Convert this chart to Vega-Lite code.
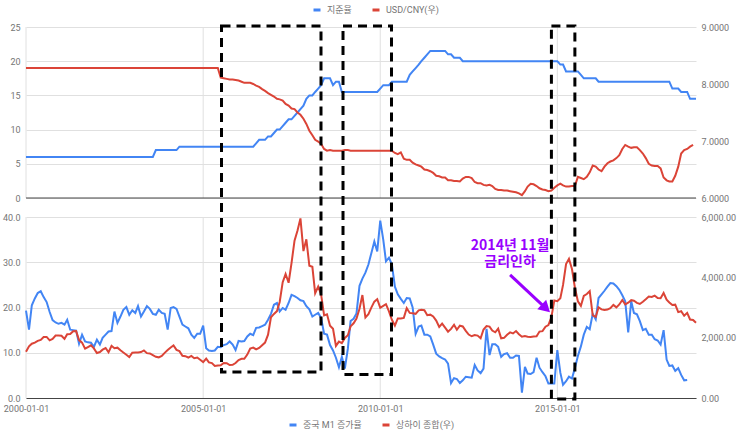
{
"$schema":"https://vega.github.io/schema/vega-lite/v6.json",
"width":670,"height":371,
"autosize":{"type":"none"},
"padding":{"left":26,"top":27,"right":47,"bottom":39},
"background":"white",
"config":{
 "view":{"stroke":null},
 "font":"Roboto",
 "axis":{"labelFont":"Roboto","labelFontSize":9,"labelColor":"#757575","ticks":false,"tickSize":0,"domain":false,"title":null,"gridColor":"#e0e0e0","gridWidth":1},
 "legend":{"padding":0,"labelFont":"Roboto, Noto Sans CJK KR","labelFontSize":9,"labelColor":"#757575","symbolType":"stroke","symbolStrokeWidth":3,"symbolSize":49,"labelOffset":5,"columnPadding":14,"direction":"horizontal","orient":"none","title":null}
},
"datasets":{
"mo":[
{"d":"2000-01-01","r":6,"u":8.28,"m":19.3,"s":1535},{"d":"2000-02-01","r":6,"u":8.28,"m":15.1,"s":1715},{"d":"2000-03-01","r":6,"u":8.28,"m":20.5,"s":1800},{"d":"2000-04-01","r":6,"u":8.28,"m":22.0,"s":1836},{"d":"2000-05-01","r":6,"u":8.28,"m":23.2,"s":1894},{"d":"2000-06-01","r":6,"u":8.28,"m":23.6,"s":1928},{"d":"2000-07-01","r":6,"u":8.28,"m":22.3,"s":2023},{"d":"2000-08-01","r":6,"u":8.28,"m":21.2,"s":2025},{"d":"2000-09-01","r":6,"u":8.28,"m":19.0,"s":1911},{"d":"2000-10-01","r":6,"u":8.28,"m":17.2,"s":1961},{"d":"2000-11-01","r":6,"u":8.28,"m":16.7,"s":2070},{"d":"2000-12-01","r":6,"u":8.28,"m":16.4,"s":2073},
{"d":"2001-01-01","r":6,"u":8.28,"m":16.6,"s":2065},{"d":"2001-02-01","r":6,"u":8.28,"m":16.2,"s":1960},{"d":"2001-03-01","r":6,"u":8.28,"m":17.3,"s":2112},{"d":"2001-04-01","r":6,"u":8.28,"m":15.1,"s":2119},{"d":"2001-05-01","r":6,"u":8.28,"m":15.0,"s":2214},{"d":"2001-06-01","r":6,"u":8.28,"m":14.9,"s":2218},{"d":"2001-07-01","r":6,"u":8.28,"m":12.0,"s":1920},{"d":"2001-08-01","r":6,"u":8.28,"m":14.0,"s":1834},{"d":"2001-09-01","r":6,"u":8.28,"m":12.5,"s":1636},{"d":"2001-10-01","r":6,"u":8.28,"m":12.3,"s":1690},{"d":"2001-11-01","r":6,"u":8.28,"m":12.2,"s":1747},{"d":"2001-12-01","r":6,"u":8.28,"m":11.3,"s":1646},
{"d":"2002-01-01","r":6,"u":8.28,"m":12.9,"s":1491},{"d":"2002-02-01","r":6,"u":8.28,"m":11.8,"s":1525},{"d":"2002-03-01","r":6,"u":8.28,"m":13.3,"s":1603},{"d":"2002-04-01","r":6,"u":8.28,"m":14.0,"s":1657},{"d":"2002-05-01","r":6,"u":8.28,"m":14.7,"s":1515},{"d":"2002-06-01","r":6,"u":8.28,"m":14.8,"s":1732},{"d":"2002-07-01","r":6,"u":8.28,"m":19.1,"s":1651},{"d":"2002-08-01","r":6,"u":8.28,"m":16.6,"s":1669},{"d":"2002-09-01","r":6,"u":8.28,"m":18.0,"s":1581},{"d":"2002-10-01","r":6,"u":8.28,"m":19.5,"s":1507},{"d":"2002-11-01","r":6,"u":8.28,"m":20.1,"s":1434},{"d":"2002-12-01","r":6,"u":8.28,"m":18.4,"s":1357},
{"d":"2003-01-01","r":6,"u":8.28,"m":19.4,"s":1500},{"d":"2003-02-01","r":6,"u":8.28,"m":18.8,"s":1511},{"d":"2003-03-01","r":6,"u":8.28,"m":20.3,"s":1511},{"d":"2003-04-01","r":6,"u":8.28,"m":18.0,"s":1521},{"d":"2003-05-01","r":6,"u":8.28,"m":19.1,"s":1576},{"d":"2003-06-01","r":6,"u":8.28,"m":20.3,"s":1487},{"d":"2003-07-01","r":6,"u":8.28,"m":19.7,"s":1477},{"d":"2003-08-01","r":6,"u":8.28,"m":18.6,"s":1421},{"d":"2003-09-01","r":7,"u":8.28,"m":18.4,"s":1367},{"d":"2003-10-01","r":7,"u":8.28,"m":19.5,"s":1348},{"d":"2003-11-01","r":7,"u":8.28,"m":18.8,"s":1397},{"d":"2003-12-01","r":7,"u":8.28,"m":18.6,"s":1497},
{"d":"2004-01-01","r":7,"u":8.28,"m":15.1,"s":1590},{"d":"2004-02-01","r":7,"u":8.28,"m":19.9,"s":1675},{"d":"2004-03-01","r":7,"u":8.28,"m":20.1,"s":1742},{"d":"2004-04-01","r":7,"u":8.28,"m":19.7,"s":1595},{"d":"2004-05-01","r":7.5,"u":8.28,"m":18.0,"s":1555},{"d":"2004-06-01","r":7.5,"u":8.28,"m":16.2,"s":1399},{"d":"2004-07-01","r":7.5,"u":8.28,"m":15.8,"s":1387},{"d":"2004-08-01","r":7.5,"u":8.28,"m":15.4,"s":1342},{"d":"2004-09-01","r":7.5,"u":8.28,"m":14.0,"s":1396},{"d":"2004-10-01","r":7.5,"u":8.28,"m":13.3,"s":1320},{"d":"2004-11-01","r":7.5,"u":8.28,"m":14.2,"s":1340},{"d":"2004-12-01","r":7.5,"u":8.28,"m":14.2,"s":1266},
{"d":"2005-01-01","r":7.5,"u":8.28,"m":16.0,"s":1191},{"d":"2005-02-01","r":7.5,"u":8.28,"m":11.0,"s":1306},{"d":"2005-03-01","r":7.5,"u":8.28,"m":10.5,"s":1181},{"d":"2005-04-01","r":7.5,"u":8.28,"m":10.4,"s":1159},{"d":"2005-05-01","r":7.5,"u":8.28,"m":10.5,"s":1060},{"d":"2005-06-01","r":7.5,"u":8.28,"m":11.3,"s":1080},{"d":"2005-07-01","r":7.5,"u":8.11,"m":11.2,"s":1083},{"d":"2005-08-01","r":7.5,"u":8.10,"m":11.7,"s":1162},{"d":"2005-09-01","r":7.5,"u":8.09,"m":11.9,"s":1155},{"d":"2005-10-01","r":7.5,"u":8.08,"m":12.5,"s":1092},{"d":"2005-11-01","r":7.5,"u":8.08,"m":11.8,"s":1099},{"d":"2005-12-01","r":7.5,"u":8.07,"m":10.6,"s":1161},
{"d":"2006-01-01","r":7.5,"u":8.06,"m":12.6,"s":1258},{"d":"2006-02-01","r":7.5,"u":8.04,"m":12.5,"s":1299},{"d":"2006-03-01","r":7.5,"u":8.02,"m":12.6,"s":1298},{"d":"2006-04-01","r":7.5,"u":8.02,"m":13.6,"s":1440},{"d":"2006-05-01","r":7.5,"u":8.02,"m":14.2,"s":1641},{"d":"2006-06-01","r":7.5,"u":8.00,"m":13.9,"s":1672},{"d":"2006-07-01","r":8,"u":7.97,"m":15.5,"s":1612},{"d":"2006-08-01","r":8.5,"u":7.95,"m":15.6,"s":1658},{"d":"2006-09-01","r":8.5,"u":7.91,"m":15.9,"s":1752},{"d":"2006-10-01","r":8.5,"u":7.88,"m":16.2,"s":1837},{"d":"2006-11-01","r":9,"u":7.84,"m":17.3,"s":2099},{"d":"2006-12-01","r":9,"u":7.81,"m":18.6,"s":2675},
{"d":"2007-01-01","r":9.5,"u":7.78,"m":20.6,"s":2786},{"d":"2007-02-01","r":10,"u":7.74,"m":21.0,"s":2881},{"d":"2007-03-01","r":10,"u":7.73,"m":19.1,"s":3183},{"d":"2007-04-01","r":10.5,"u":7.71,"m":19.9,"s":3841},{"d":"2007-05-01","r":11,"u":7.65,"m":19.5,"s":4109},{"d":"2007-06-01","r":11.5,"u":7.62,"m":21.0,"s":3821},{"d":"2007-07-01","r":11.5,"u":7.57,"m":22.8,"s":4471},{"d":"2007-08-01","r":12,"u":7.56,"m":22.5,"s":5218},{"d":"2007-09-01","r":12.5,"u":7.50,"m":22.1,"s":5552},{"d":"2007-10-01","r":13,"u":7.46,"m":21.6,"s":5954},{"d":"2007-11-01","r":13.5,"u":7.39,"m":21.4,"s":4871},{"d":"2007-12-01","r":14.5,"u":7.30,"m":20.3,"s":5262},
{"d":"2008-01-01","r":15,"u":7.18,"m":19.6,"s":4383},{"d":"2008-02-01","r":15,"u":7.10,"m":18.0,"s":4348},{"d":"2008-03-01","r":15.5,"u":7.02,"m":18.4,"s":3473},{"d":"2008-04-01","r":16,"u":6.99,"m":18.8,"s":3693},{"d":"2008-05-01","r":16.5,"u":6.95,"m":17.7,"s":3433},{"d":"2008-06-01","r":17.5,"u":6.86,"m":14.2,"s":2736},{"d":"2008-07-01","r":17.5,"u":6.83,"m":14.0,"s":2775},{"d":"2008-08-01","r":17.5,"u":6.84,"m":11.7,"s":2397},{"d":"2008-09-01","r":16.5,"u":6.83,"m":10.5,"s":2293},{"d":"2008-10-01","r":17,"u":6.83,"m":8.9,"s":1729},{"d":"2008-11-01","r":17,"u":6.83,"m":6.8,"s":1871},{"d":"2008-12-01","r":15.5,"u":6.83,"m":9.1,"s":1821},
{"d":"2009-01-01","r":15.5,"u":6.84,"m":6.5,"s":1991},{"d":"2009-02-01","r":15.5,"u":6.84,"m":10.9,"s":2082},{"d":"2009-03-01","r":15.5,"u":6.83,"m":17.0,"s":2373},{"d":"2009-04-01","r":15.5,"u":6.83,"m":17.5,"s":2477},{"d":"2009-05-01","r":15.5,"u":6.83,"m":18.7,"s":2633},{"d":"2009-06-01","r":15.5,"u":6.83,"m":24.8,"s":2959},{"d":"2009-07-01","r":15.5,"u":6.83,"m":26.4,"s":3412},{"d":"2009-08-01","r":15.5,"u":6.83,"m":27.7,"s":2668},{"d":"2009-09-01","r":15.5,"u":6.83,"m":29.5,"s":2779},{"d":"2009-10-01","r":15.5,"u":6.83,"m":32.0,"s":2996},{"d":"2009-11-01","r":15.5,"u":6.83,"m":34.6,"s":3195},{"d":"2009-12-01","r":15.5,"u":6.83,"m":32.4,"s":3277},
{"d":"2010-01-01","r":16,"u":6.83,"m":39.2,"s":2989},{"d":"2010-02-01","r":16.5,"u":6.83,"m":35.0,"s":3051},{"d":"2010-03-01","r":16.5,"u":6.83,"m":30.2,"s":3109},{"d":"2010-04-01","r":16.5,"u":6.83,"m":31.0,"s":2870},{"d":"2010-05-01","r":17,"u":6.83,"m":29.5,"s":2592},{"d":"2010-06-01","r":17,"u":6.79,"m":24.6,"s":2398},{"d":"2010-07-01","r":17,"u":6.77,"m":22.9,"s":2638},{"d":"2010-08-01","r":17,"u":6.80,"m":21.9,"s":2639},{"d":"2010-09-01","r":17,"u":6.69,"m":21.0,"s":2656},{"d":"2010-10-01","r":17,"u":6.67,"m":22.1,"s":2979},{"d":"2010-11-01","r":18,"u":6.67,"m":22.0,"s":2820},{"d":"2010-12-01","r":18.5,"u":6.62,"m":20.0,"s":2808},
{"d":"2011-01-01","r":19,"u":6.59,"m":14.2,"s":2790},{"d":"2011-02-01","r":19.5,"u":6.57,"m":15.8,"s":2905},{"d":"2011-03-01","r":20,"u":6.55,"m":16.0,"s":2928},{"d":"2011-04-01","r":20.5,"u":6.50,"m":14.0,"s":2911},{"d":"2011-05-01","r":21,"u":6.49,"m":14.0,"s":2743},{"d":"2011-06-01","r":21.5,"u":6.47,"m":13.6,"s":2762},{"d":"2011-07-01","r":21.5,"u":6.44,"m":11.8,"s":2701},{"d":"2011-08-01","r":21.5,"u":6.39,"m":9.8,"s":2568},{"d":"2011-09-01","r":21.5,"u":6.38,"m":9.2,"s":2359},{"d":"2011-10-01","r":21.5,"u":6.36,"m":8.8,"s":2468},{"d":"2011-11-01","r":21.5,"u":6.36,"m":8.5,"s":2333},{"d":"2011-12-01","r":21,"u":6.31,"m":7.6,"s":2199},
{"d":"2012-01-01","r":21,"u":6.31,"m":3.3,"s":2292},{"d":"2012-02-01","r":20.5,"u":6.30,"m":4.4,"s":2428},{"d":"2012-03-01","r":20.5,"u":6.30,"m":4.2,"s":2263},{"d":"2012-04-01","r":20.5,"u":6.29,"m":3.3,"s":2396},{"d":"2012-05-01","r":20,"u":6.34,"m":3.9,"s":2373},{"d":"2012-06-01","r":20,"u":6.37,"m":4.7,"s":2225},{"d":"2012-07-01","r":20,"u":6.37,"m":4.6,"s":2103},{"d":"2012-08-01","r":20,"u":6.35,"m":4.5,"s":2047},{"d":"2012-09-01","r":20,"u":6.28,"m":7.3,"s":2086},{"d":"2012-10-01","r":20,"u":6.26,"m":6.1,"s":2069},{"d":"2012-11-01","r":20,"u":6.26,"m":5.5,"s":1980},{"d":"2012-12-01","r":20,"u":6.23,"m":6.5,"s":2269},
{"d":"2013-01-01","r":20,"u":6.22,"m":15.3,"s":2385},{"d":"2013-02-01","r":20,"u":6.23,"m":9.5,"s":2366},{"d":"2013-03-01","r":20,"u":6.21,"m":11.9,"s":2237},{"d":"2013-04-01","r":20,"u":6.16,"m":11.9,"s":2178},{"d":"2013-05-01","r":20,"u":6.14,"m":11.3,"s":2301},{"d":"2013-06-01","r":20,"u":6.14,"m":9.1,"s":1979},{"d":"2013-07-01","r":20,"u":6.13,"m":9.7,"s":1994},{"d":"2013-08-01","r":20,"u":6.13,"m":9.9,"s":2098},{"d":"2013-09-01","r":20,"u":6.12,"m":8.9,"s":2175},{"d":"2013-10-01","r":20,"u":6.11,"m":8.9,"s":2141},{"d":"2013-11-01","r":20,"u":6.10,"m":9.4,"s":2220},{"d":"2013-12-01","r":20,"u":6.08,"m":9.3,"s":2116},
{"d":"2014-01-01","r":20,"u":6.05,"m":1.2,"s":2033},{"d":"2014-02-01","r":20,"u":6.12,"m":6.9,"s":2056},{"d":"2014-03-01","r":20,"u":6.20,"m":5.4,"s":2033},{"d":"2014-04-01","r":20,"u":6.25,"m":5.3,"s":2026},{"d":"2014-05-01","r":20,"u":6.24,"m":5.7,"s":2039},{"d":"2014-06-01","r":20,"u":6.21,"m":8.9,"s":2048},{"d":"2014-07-01","r":20,"u":6.17,"m":6.7,"s":2202},{"d":"2014-08-01","r":20,"u":6.15,"m":5.7,"s":2217},{"d":"2014-09-01","r":20,"u":6.14,"m":4.8,"s":2364},{"d":"2014-10-01","r":20,"u":6.12,"m":3.2,"s":2420},{"d":"2014-11-01","r":20,"u":6.13,"m":3.2,"s":2683},{"d":"2014-12-01","r":20,"u":6.18,"m":3.2,"s":3235},
{"d":"2015-01-01","r":20,"u":6.22,"m":10.6,"s":3210},{"d":"2015-02-01","r":19.5,"u":6.25,"m":5.6,"s":3310},{"d":"2015-03-01","r":19.5,"u":6.22,"m":2.9,"s":3748},{"d":"2015-04-01","r":18.5,"u":6.20,"m":3.7,"s":4442},{"d":"2015-05-01","r":18.5,"u":6.20,"m":4.7,"s":4612},{"d":"2015-06-01","r":18.5,"u":6.21,"m":4.3,"s":4277},{"d":"2015-07-01","r":18.5,"u":6.21,"m":6.6,"s":3664},{"d":"2015-08-01","r":18.5,"u":6.37,"m":9.3,"s":3206},{"d":"2015-09-01","r":18,"u":6.35,"m":11.4,"s":3053},{"d":"2015-10-01","r":17.5,"u":6.33,"m":14.0,"s":3383},{"d":"2015-11-01","r":17.5,"u":6.37,"m":15.7,"s":3445},{"d":"2015-12-01","r":17.5,"u":6.45,"m":15.2,"s":3539},
{"d":"2016-01-01","r":17.5,"u":6.57,"m":18.6,"s":2738},{"d":"2016-02-01","r":17.5,"u":6.55,"m":17.4,"s":2688},{"d":"2016-03-01","r":17,"u":6.50,"m":22.1,"s":3004},{"d":"2016-04-01","r":17,"u":6.47,"m":22.9,"s":2938},{"d":"2016-05-01","r":17,"u":6.55,"m":23.7,"s":2917},{"d":"2016-06-01","r":17,"u":6.61,"m":24.6,"s":2930},{"d":"2016-07-01","r":17,"u":6.64,"m":25.4,"s":2979},{"d":"2016-08-01","r":17,"u":6.66,"m":25.3,"s":3085},{"d":"2016-09-01","r":17,"u":6.70,"m":24.7,"s":3005},{"d":"2016-10-01","r":17,"u":6.75,"m":23.9,"s":3100},{"d":"2016-11-01","r":17,"u":6.86,"m":22.7,"s":3250},{"d":"2016-12-01","r":17,"u":6.93,"m":21.4,"s":3104},
{"d":"2017-01-01","r":17,"u":6.90,"m":14.5,"s":3159},{"d":"2017-02-01","r":17,"u":6.88,"m":21.4,"s":3242},{"d":"2017-03-01","r":17,"u":6.89,"m":18.8,"s":3223},{"d":"2017-04-01","r":17,"u":6.89,"m":18.5,"s":3155},{"d":"2017-05-01","r":17,"u":6.84,"m":17.0,"s":3117},{"d":"2017-06-01","r":17,"u":6.78,"m":15.0,"s":3192},{"d":"2017-07-01","r":17,"u":6.70,"m":15.3,"s":3273},{"d":"2017-08-01","r":17,"u":6.60,"m":14.0,"s":3361},{"d":"2017-09-01","r":17,"u":6.57,"m":14.0,"s":3349},{"d":"2017-10-01","r":17,"u":6.56,"m":13.0,"s":3393},{"d":"2017-11-01","r":17,"u":6.56,"m":12.7,"s":3317},{"d":"2017-12-01","r":17,"u":6.52,"m":11.8,"s":3307},
{"d":"2018-01-01","r":17,"u":6.36,"m":15.0,"s":3481},{"d":"2018-02-01","r":17,"u":6.31,"m":8.5,"s":3259},{"d":"2018-03-01","r":17,"u":6.29,"m":7.1,"s":3169},{"d":"2018-04-01","r":16,"u":6.29,"m":7.2,"s":3082},{"d":"2018-05-01","r":16,"u":6.39,"m":6.0,"s":3095},{"d":"2018-06-01","r":16,"u":6.55,"m":6.6,"s":2847},{"d":"2018-07-01","r":15.5,"u":6.78,"m":5.1,"s":2876},{"d":"2018-08-01","r":15.5,"u":6.84,"m":3.9,"s":2725},{"d":"2018-09-01","r":15.5,"u":6.86,"m":4.0,"s":2821},{"d":"2018-10-01","r":14.5,"u":6.90,"m":null,"s":2603},{"d":"2018-11-01","r":14.5,"u":6.93,"m":null,"s":2588},{"d":"2018-12-01","r":14.5,"u":null,"m":null,"s":2494}
],
"vg":[{"d":"2000-01-01"},{"d":"2005-01-01"},{"d":"2010-01-01"},{"d":"2015-01-01"}],
"base":[{"d":"2000-01-01","d2":"2018-12-01"}],
"boxes":[{"d":"2005-07-09","d2":"2008-04-30","y":82.2,"y2":5.75},{"d":"2008-12-13","d2":"2010-04-27","y":82.2,"y2":5.19},{"d":"2014-11-01","d2":"2015-07-01","y":82.2,"y2":-0.2}],
"arrow":[{"d":"2013-09-01","d2":"2014-09-05","y":27.2,"y2":19.8}],
"head":[{"d":"2014-09-05","y":19.8}],
"notes":[{"d":"2013-09-01","y":33.6,"t":"2014년 11월\n금리인하"}]
},
"encoding":{"x":{"field":"d","type":"temporal","scale":{"type":"utc","domain":[{"year":2000,"month":1,"date":1,"utc":true},{"year":2018,"month":12,"date":1,"utc":true}]},
   "axis":{"values":[{"year":2000,"month":1,"date":1,"utc":true},{"year":2005,"month":1,"date":1,"utc":true},{"year":2010,"month":1,"date":1,"utc":true},{"year":2015,"month":1,"date":1,"utc":true}],"format":"%Y-%m-%d","grid":false,"labelFlush":false,"labelOverlap":false,"domain":true,"domainColor":"#444","domainWidth":1,"labelPadding":6,"orient":"bottom"}}},
"layer":[
{"data":{"name":"vg"},"mark":{"type":"rule","color":"#e0e0e0","strokeWidth":1},
 "encoding":{"y":{"datum":0,"type":"quantitative","scale":{"domain":[0,25],"range":[171,0],"nice":false,"zero":false},"axis":null},"y2":{"datum":25}}},
{"data":{"name":"vg"},"mark":{"type":"rule","color":"#e0e0e0","strokeWidth":1},
 "encoding":{"y":{"datum":0,"type":"quantitative","scale":{"domain":[0,40],"range":[371,190],"nice":false,"zero":false},"axis":null},"y2":{"datum":40}}},
{"data":{"name":"mo"},"mark":{"type":"line","strokeWidth":2},
 "encoding":{
  "y":{"field":"r","type":"quantitative","scale":{"domain":[0,25],"range":[171,0],"nice":false,"zero":false},"axis":{"orient":"left","values":[0,5,10,15,20,25],"grid":true,"labelPadding":6}},
  "stroke":{"datum":"지준율","type":"nominal","scale":{"domain":["지준율","USD/CNY(우)"],"range":["#4285f4","#db4437"]},"legend":{"orient":"none","legendX":286,"legendY":-22,"direction":"horizontal"}}}},
{"data":{"name":"mo"},"mark":{"type":"line","strokeWidth":2},
 "encoding":{
  "y":{"field":"u","type":"quantitative","scale":{"domain":[6,9],"range":[171,0],"nice":false,"zero":false},"axis":{"orient":"right","values":[6,7,8,9],"format":".4f","grid":false,"labelPadding":5}},
  "stroke":{"datum":"USD/CNY(우)","type":"nominal","scale":{"domain":["지준율","USD/CNY(우)"],"range":["#4285f4","#db4437"]},"legend":{"orient":"none","legendX":286,"legendY":-22,"direction":"horizontal"}}}},
{"data":{"name":"mo"},"mark":{"type":"line","strokeWidth":2},
 "encoding":{
  "y":{"field":"m","type":"quantitative","scale":{"domain":[0,40],"range":[371,190],"nice":false,"zero":false},"axis":{"orient":"left","values":[0,10,20,30,40],"format":".1f","grid":true,"labelPadding":6}},
  "color":{"datum":"중국 M1 증가율","type":"nominal","scale":{"domain":["중국 M1 증가율","상하이 종합(우)"],"range":["#4285f4","#db4437"]},"legend":{"orient":"none","legendX":262,"legendY":393,"direction":"horizontal"}}}},
{"data":{"name":"mo"},"mark":{"type":"line","strokeWidth":2},
 "encoding":{
  "y":{"field":"s","type":"quantitative","scale":{"domain":[0,6000],"range":[371,190],"nice":false,"zero":false},"axis":{"orient":"right","values":[0,2000,4000,6000],"format":",.2f","grid":false,"labelPadding":5}},
  "color":{"datum":"상하이 종합(우)","type":"nominal","scale":{"domain":["중국 M1 증가율","상하이 종합(우)"],"range":["#4285f4","#db4437"]},"legend":{"orient":"none","legendX":262,"legendY":393,"direction":"horizontal"}}}},
{"data":{"name":"base"},"mark":{"type":"rule","color":"#444","strokeWidth":1},
 "encoding":{"x2":{"field":"d2"},
  "y":{"datum":0,"type":"quantitative","scale":{"domain":[0,25],"range":[171,0],"nice":false,"zero":false},"axis":null}}},
{"data":{"name":"boxes"},"mark":{"type":"rect","fillOpacity":0,"stroke":"#000","strokeWidth":3,"strokeDash":[9,6]},
 "encoding":{"x2":{"field":"d2"},
  "y":{"field":"y","type":"quantitative","scale":{"domain":[0,40],"range":[371,190],"nice":false,"zero":false},"axis":null},"y2":{"field":"y2"}}},
{"data":{"name":"arrow"},"mark":{"type":"rule","color":"#9900ff","strokeWidth":3},
 "encoding":{"x2":{"field":"d2"},
  "y":{"field":"y","type":"quantitative","scale":{"domain":[0,40],"range":[371,190],"nice":false,"zero":false},"axis":null},"y2":{"field":"y2"}}},
{"data":{"name":"head"},"mark":{"type":"point","shape":"triangle-up","filled":true,"size":170,"angle":133,"color":"#9900ff","opacity":1},
 "encoding":{
  "y":{"field":"y","type":"quantitative","scale":{"domain":[0,40],"range":[371,190],"nice":false,"zero":false},"axis":null}}},
{"data":{"name":"notes"},"mark":{"type":"text","font":"Noto Sans CJK KR","fontSize":14,"fontWeight":"bold","color":"#9900ff","align":"center","baseline":"middle","lineBreak":"\n","lineHeight":16},
 "encoding":{
  "y":{"field":"y","type":"quantitative","scale":{"domain":[0,40],"range":[371,190],"nice":false,"zero":false},"axis":null},
  "text":{"field":"t"}}}
],
"resolve":{"scale":{"y":"independent"}}
}
